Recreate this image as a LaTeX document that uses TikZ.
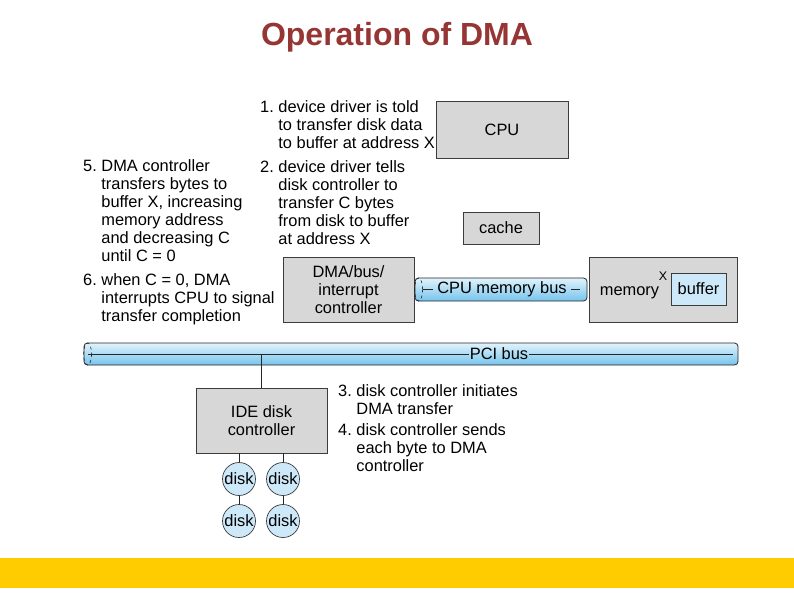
\documentclass[tikz,border=0pt]{standalone}
\usepackage{fontspec}
\setmainfont{Liberation Sans}
\usetikzlibrary{calc}
\definecolor{titlered}{RGB}{150,54,52}
\definecolor{boxgray}{RGB}{215,215,215}
\definecolor{boxline}{RGB}{60,60,60}
\definecolor{lightblue}{RGB}{205,233,249}
\definecolor{bustop}{RGB}{225,243,252}
\definecolor{busbot}{RGB}{118,196,236}
\definecolor{bandyellow}{RGB}{255,204,0}
\begin{document}
\begin{tikzpicture}[x=1pt,y=-1pt,
  txt/.style={font=\fontsize{16.4}{18}\selectfont},
  lbl/.style={txt, anchor=base west, inner sep=0pt},
  gbox/.style={txt, draw=boxline, fill=boxgray, line width=0.7pt, inner sep=0pt, align=center},
  bbox/.style={txt, draw=boxline, fill=lightblue, line width=0.7pt, inner sep=0pt, align=center},
  disknode/.style={txt, circle, draw=boxline, fill=lightblue, line width=0.7pt, inner sep=0pt, minimum size=33pt},
  busnode/.style={draw=black!85, line width=0.8pt, rounded corners=3.5pt, top color=bustop, bottom color=busbot, inner sep=0pt},
  busline/.style={line width=0.8pt, black!85},
  wire/.style={line width=0.7pt, black!85}
]
\useasboundingbox (0,0) rectangle (794,595);
\fill[white] (0,0) rectangle (794,595);

% title
\node[font=\fontsize{32}{36}\selectfont\bfseries, text=titlered, anchor=base, inner sep=0pt] (title) at (397,45) {Operation of DMA};

% boxes
\node[gbox, minimum width=132pt, minimum height=57pt] (cpu) at (502,129.5) {CPU};
\node[gbox, minimum width=76pt, minimum height=32pt] (cache) at (501,228) {cache};
\node[gbox, minimum width=131pt, minimum height=65pt] (dma) at (348.5,289.5) {DMA/bus/\\interrupt\\controller};
\node[gbox, minimum width=148pt, minimum height=65pt] (mem) at (663,289.5) {};
\node[bbox, minimum width=55pt, minimum height=32pt] (buf) at (698.5,289) {buffer};
\node[txt, anchor=base, inner sep=0pt] (memtext) at (629.5,295) {memory};
\node[font=\fontsize{12.5}{14}\selectfont, anchor=base, inner sep=0pt] (xlab) at (663,280) {X};
\node[gbox, minimum width=131pt, minimum height=65pt] (ide) at (261.5,420.5) {IDE disk\\controller};

% CPU memory bus
\node[busnode, minimum width=172pt, minimum height=23pt] (cmb) at (501,289.5) {};
\draw[dashed, line width=0.6pt, black!85] ($(cmb.west)+(4,0)$) ellipse [x radius=4, y radius=11.5];
\node[txt, inner sep=4pt] (cmbtext) at (502,289.5) {CPU memory bus};
\coordinate (cmbL) at ($(cmb.west)+(8,0)$);
\coordinate (cmbR) at ($(cmb.east)+(-7,0)$);
\draw[busline] (cmbL) -- (cmbtext.west);
\draw[busline] (cmbtext.east) -- (cmbR);

% PCI bus
\node[busnode, minimum width=654pt, minimum height=22pt] (pci) at (411,354) {};
\draw[dashed, line width=0.6pt, black!85] ($(pci.west)+(4,0)$) ellipse [x radius=4, y radius=11];
\node[txt, inner sep=1pt] (pcitext) at (499,354) {PCI bus};
\coordinate (pciL) at ($(pci.west)+(4,0)$);
\coordinate (pciR) at ($(pci.east)+(-5,0)$);
\draw[busline] (pciL) -- (pcitext.west);
\draw[busline] (pcitext.east) -- (pciR);

% PCI to IDE
\draw[wire] (ide.north) -- (ide.north |- pci.center);

% disks
\node[disknode] (d1) at (239,479) {disk};
\node[disknode] (d2) at (283,479) {disk};
\node[disknode] (d3) at (239,521) {disk};
\node[disknode] (d4) at (283,521) {disk};
\draw[wire] (d1.north) -- (d1.north |- ide.south);
\draw[wire] (d2.north) -- (d2.north |- ide.south);
\draw[wire] (d1.south) -- (d3.north);
\draw[wire] (d2.south) -- (d4.north);

% labels
\node[lbl] (t1) at (260,112) {\begin{tabular}[t]{@{}l@{\ }l@{}}1.&device driver is told\\&to transfer disk data\\&to buffer at address X\end{tabular}};
\node[lbl] (t2) at (260,172) {\begin{tabular}[t]{@{}l@{\ }l@{}}2.&device driver tells\\&disk controller to\\&transfer C bytes\\&from disk to buffer\\&at address X\end{tabular}};
\node[lbl] (t5) at (83,171) {\begin{tabular}[t]{@{}l@{\ }l@{}}5.&DMA controller\\&transfers bytes to\\&buffer X, increasing\\&memory address\\&and decreasing C\\&until C = 0\end{tabular}};
\node[lbl] (t6) at (83,285) {\begin{tabular}[t]{@{}l@{\ }l@{}}6.&when C = 0, DMA\\&interrupts CPU to signal\\&transfer completion\end{tabular}};
\node[lbl] (t3) at (338,396) {\begin{tabular}[t]{@{}l@{\ }l@{}}3.&disk controller initiates\\&DMA transfer\end{tabular}};
\node[lbl] (t4) at (338,435) {\begin{tabular}[t]{@{}l@{\ }l@{}}4.&disk controller sends\\&each byte to DMA\\&controller\end{tabular}};

% bottom band
\fill[bandyellow] (0,558) rectangle (794,588);
\end{tikzpicture}
\end{document}
